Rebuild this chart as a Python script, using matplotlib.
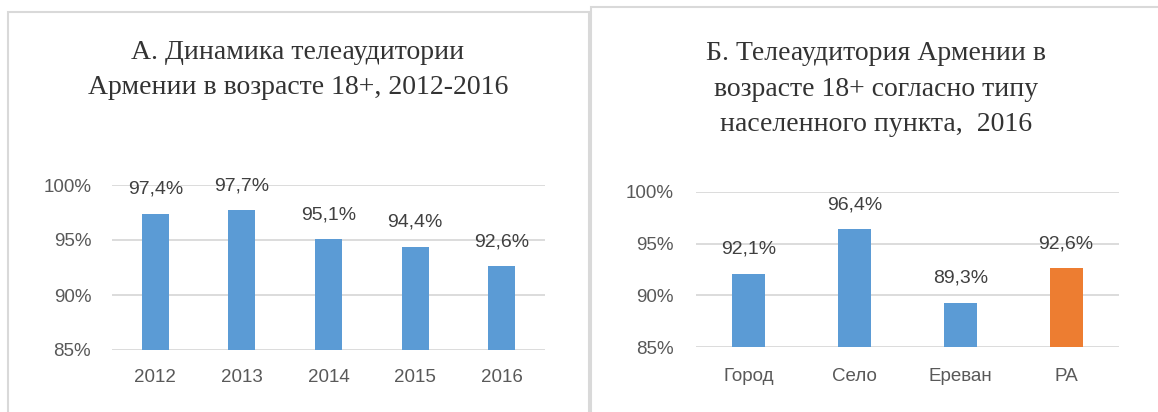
import matplotlib.pyplot as plt
from matplotlib.patches import Rectangle

years = ['2012', '2013', '2014', '2015', '2016']
years_vals = [97.4, 97.7, 95.1, 94.4, 92.6]

places = ['Город', 'Село', 'Ереван', 'РА']
places_vals = [92.1, 96.4, 89.3, 92.6]

title_a = 'А. Динамика телеаудитории\nАрмении в возрасте 18+, 2012-2016'
title_b = 'Б. Телеаудитория Армении в\nвозрасте 18+ согласно типу\nнаселенного пункта,  2016'

BLUE = '#5b9bd5'
ORANGE = '#ed7d31'
GRID = '#d9d9d9'
TICK = '#595959'
LABEL = '#404040'

plt.rcParams['font.family'] = ['Liberation Sans', 'DejaVu Sans']

fig = plt.figure(figsize=(11.58, 4.12), dpi=100)
W, H = 1158, 412


def px(x, y):
    return x / W, 1 - y / H


# panel frames
for x0, y0, x1 in [(8, 12, 589), (591, 7, 1170)]:
    l, t = px(x0, y0)
    r, b = px(x1, 430)
    fig.patches.append(Rectangle((l, b), r - l, t - b, transform=fig.transFigure,
                                 fill=False, edgecolor=GRID, linewidth=1.5))


def bar_panel(rect, cats, vals, colors, xpad, ypad):
    ax = fig.add_axes(rect)
    x = range(len(cats))
    ax.bar(x, vals, width=0.31, color=colors, zorder=3)
    ax.set_ylim(85, 100)
    ax.set_xlim(-0.5, len(cats) - 0.5)
    ax.set_yticks([85, 90, 95, 100])
    ax.set_yticklabels(['85%', '90%', '95%', '100%'])
    ax.set_xticks(list(x))
    ax.set_xticklabels(cats)
    ax.tick_params(length=0, labelsize=13.5, colors=TICK)
    ax.tick_params(axis='x', pad=xpad)
    ax.tick_params(axis='y', pad=ypad)
    ax.grid(axis='y', color=GRID, linewidth=1.3, zorder=0)
    for s in ax.spines.values():
        s.set_visible(False)
    ax.set_facecolor('none')
    for i, v in enumerate(vals):
        ax.annotate(f'{v:.1f}%'.replace('.', ','), (i, v), xytext=(0, 17.5),
                    textcoords='offset points', ha='center', va='center',
                    fontsize=14, color=LABEL, zorder=4)
    return ax


bar_panel([112 / W, 1 - 350 / H, 433 / W, 165 / H], years, years_vals,
          [BLUE] * 5, 14, 15)
bar_panel([696 / W, 1 - 347 / H, 423 / W, 155 / H], places, places_vals,
          [BLUE, BLUE, BLUE, ORANGE], 15, 16)

fig.text(*px(298, 70), title_a, ha='center', va='center', fontsize=20,
         family='Liberation Serif', color='#333333', linespacing=1.55)
fig.text(*px(876, 89), title_b, ha='center', va='center', fontsize=20,
         family='Liberation Serif', color='#333333', linespacing=1.55)

fig.savefig('out.png', dpi=100, facecolor='white')
